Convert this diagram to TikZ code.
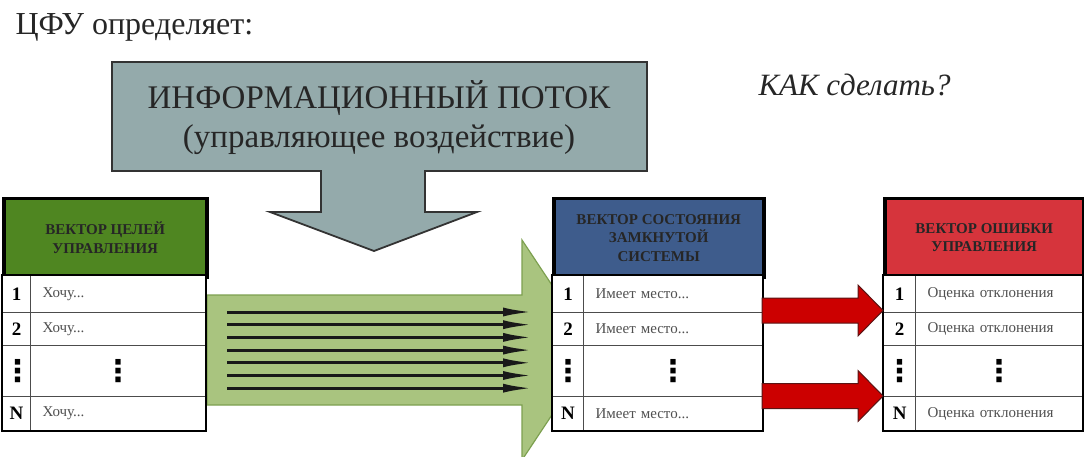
\documentclass[tikz,border=0pt]{standalone}
\usepackage{fontspec}
\setmainfont{Liberation Serif}
\newfontfamily\dotsfont{DejaVu Sans}
\usetikzlibrary{arrows.meta}

\definecolor{goalgreen}{RGB}{79,134,33}
\definecolor{stateblue}{RGB}{62,92,140}
\definecolor{errred}{RGB}{214,52,60}
\definecolor{flowgray}{RGB}{148,170,171}
\definecolor{flowgreen}{RGB}{169,196,127}
\definecolor{flowgreenline}{RGB}{125,160,80}
\definecolor{arrred}{RGB}{204,0,0}
\definecolor{arrdark}{RGB}{90,20,20}
\definecolor{celltext}{RGB}{80,80,80}

\tikzset{
 headbox/.style={draw=black,line width=3.5pt,inner sep=0pt,align=center,text=black!85,font=\bfseries\fontsize{15}{18.5}\selectfont},
 numcell/.style={draw=black!70,fill=white,line width=1.2pt,inner sep=0pt,font=\bfseries\fontsize{19}{19}\selectfont},
 txtcell/.style={draw=black!70,fill=white,line width=1.2pt,inner ysep=0pt,inner xsep=12pt,align=left,text=celltext,font=\fontsize{15}{15}\selectfont},
 dotcell/.style={draw=black!70,fill=white,line width=1.2pt,inner sep=0pt,font=\dotsfont\bfseries\fontsize{30}{30}\selectfont},
 flowline/.style={line width=3pt,black!90,-{Latex[length=30pt,width=9pt]}}
}

\begin{document}
\begin{tikzpicture}[x=1pt,y=-1pt]
\useasboundingbox(0,0)rectangle(1084,457);
\node[font=\fontsize{32}{32}\selectfont,text=black!85,anchor=base west](cfu)at(12,35){ЦФУ определяет:};
\node[font=\itshape\fontsize{31}{31}\selectfont,text=black!85,anchor=base west](how)at(755,96){КАК сделать?};
% green flow
\filldraw[draw=flowgreenline,fill=flowgreen,line width=1.2pt](207,295)--(522,295)--(522,240)--(595,350)--(522,460)--(522,405)--(207,405)--cycle;
% goals
\node[headbox,fill=goalgreen,minimum width=203pt,minimum height=78pt,anchor=north west](goalhead)at(2,197){ВЕКТОР ЦЕЛЕЙ\\УПРАВЛЕНИЯ};
\foreach\k/\y/\h/\n in{1/275/37pt/1,2/312/33pt/2,4/396/34pt/N}{\node[numcell,minimum width=28pt,minimum height=\h,anchor=north west](goaln\k)at(2,\y){\n};\node[txtcell,text width=151pt,minimum height=\h,anchor=north west](goalt\k)at(30,\y){Хочу...};}
\node[dotcell,minimum width=28pt,minimum height=51pt,anchor=north west](goaln3)at(2,345){⋮};
\node[dotcell,minimum width=175pt,minimum height=51pt,anchor=north west](goalt3)at(30,345){⋮};
\draw[line width=2pt](goaln1.north west)rectangle(goalt4.south east);
% state
\node[headbox,fill=stateblue,minimum width=210pt,minimum height=78pt,anchor=north west](statehead)at(552,197){ВЕКТОР СОСТОЯНИЯ\\ЗАМКНУТОЙ\\СИСТЕМЫ};
\foreach\k/\y/\h/\n in{1/275/37pt/1,2/312/33pt/2,4/396/34pt/N}{\node[numcell,minimum width=31pt,minimum height=\h,anchor=north west](staten\k)at(552,\y){\n};\node[txtcell,text width=155pt,minimum height=\h,anchor=north west](statet\k)at(583,\y){Имеет место...};}
\node[dotcell,minimum width=31pt,minimum height=51pt,anchor=north west](staten3)at(552,345){⋮};
\node[dotcell,minimum width=179pt,minimum height=51pt,anchor=north west](statet3)at(583,345){⋮};
\draw[line width=2pt](staten1.north west)rectangle(statet4.south east);
% error
\node[headbox,fill=errred,minimum width=199pt,minimum height=78pt,anchor=north west](errhead)at(883,197){ВЕКТОР ОШИБКИ\\УПРАВЛЕНИЯ};
\foreach\k/\y/\h/\n in{1/275/37pt/1,2/312/33pt/2,4/396/34pt/N}{\node[numcell,minimum width=32pt,minimum height=\h,anchor=north west](errn\k)at(883,\y){\n};\node[txtcell,text width=143pt,minimum height=\h,anchor=north west](errt\k)at(915,\y){Оценка отклонения};}
\node[dotcell,minimum width=32pt,minimum height=51pt,anchor=north west](errn3)at(883,345){⋮};
\node[dotcell,minimum width=167pt,minimum height=51pt,anchor=north west](errt3)at(915,345){⋮};
\draw[line width=2pt](errn1.north west)rectangle(errt4.south east);
% seven flow arrows
\foreach\k in{0,...,6}{\coordinate(fs\k)at(227,312+12.7*\k);\coordinate(fe\k)at(533,312+12.7*\k);\draw[flowline](fs\k)--(fe\k);}
% red arrows
\filldraw[draw=arrdark,fill=arrred,line width=1pt](762,298)--(858,298)--(858,285)--(883,310.5)--(858,336)--(858,323)--(762,323)--cycle;
\filldraw[draw=arrdark,fill=arrred,line width=1pt](762,383.5)--(858,383.5)--(858,370.5)--(883,396)--(858,421.5)--(858,408.5)--(762,408.5)--cycle;
% control flow
\filldraw[draw=black!80,fill=flowgray,line width=1.8pt](112,62)--(647,62)--(647,171)--(425,171)--(425,212)--(477,212)--(374,251)--(270,212)--(321,212)--(321,171)--(112,171)--cycle;
\node[font=\fontsize{33}{39}\selectfont,text=black!85,align=center](flowtitle)at(379,118){ИНФОРМАЦИОННЫЙ ПОТОК\\(управляющее воздействие)};
\end{tikzpicture}
\end{document}
